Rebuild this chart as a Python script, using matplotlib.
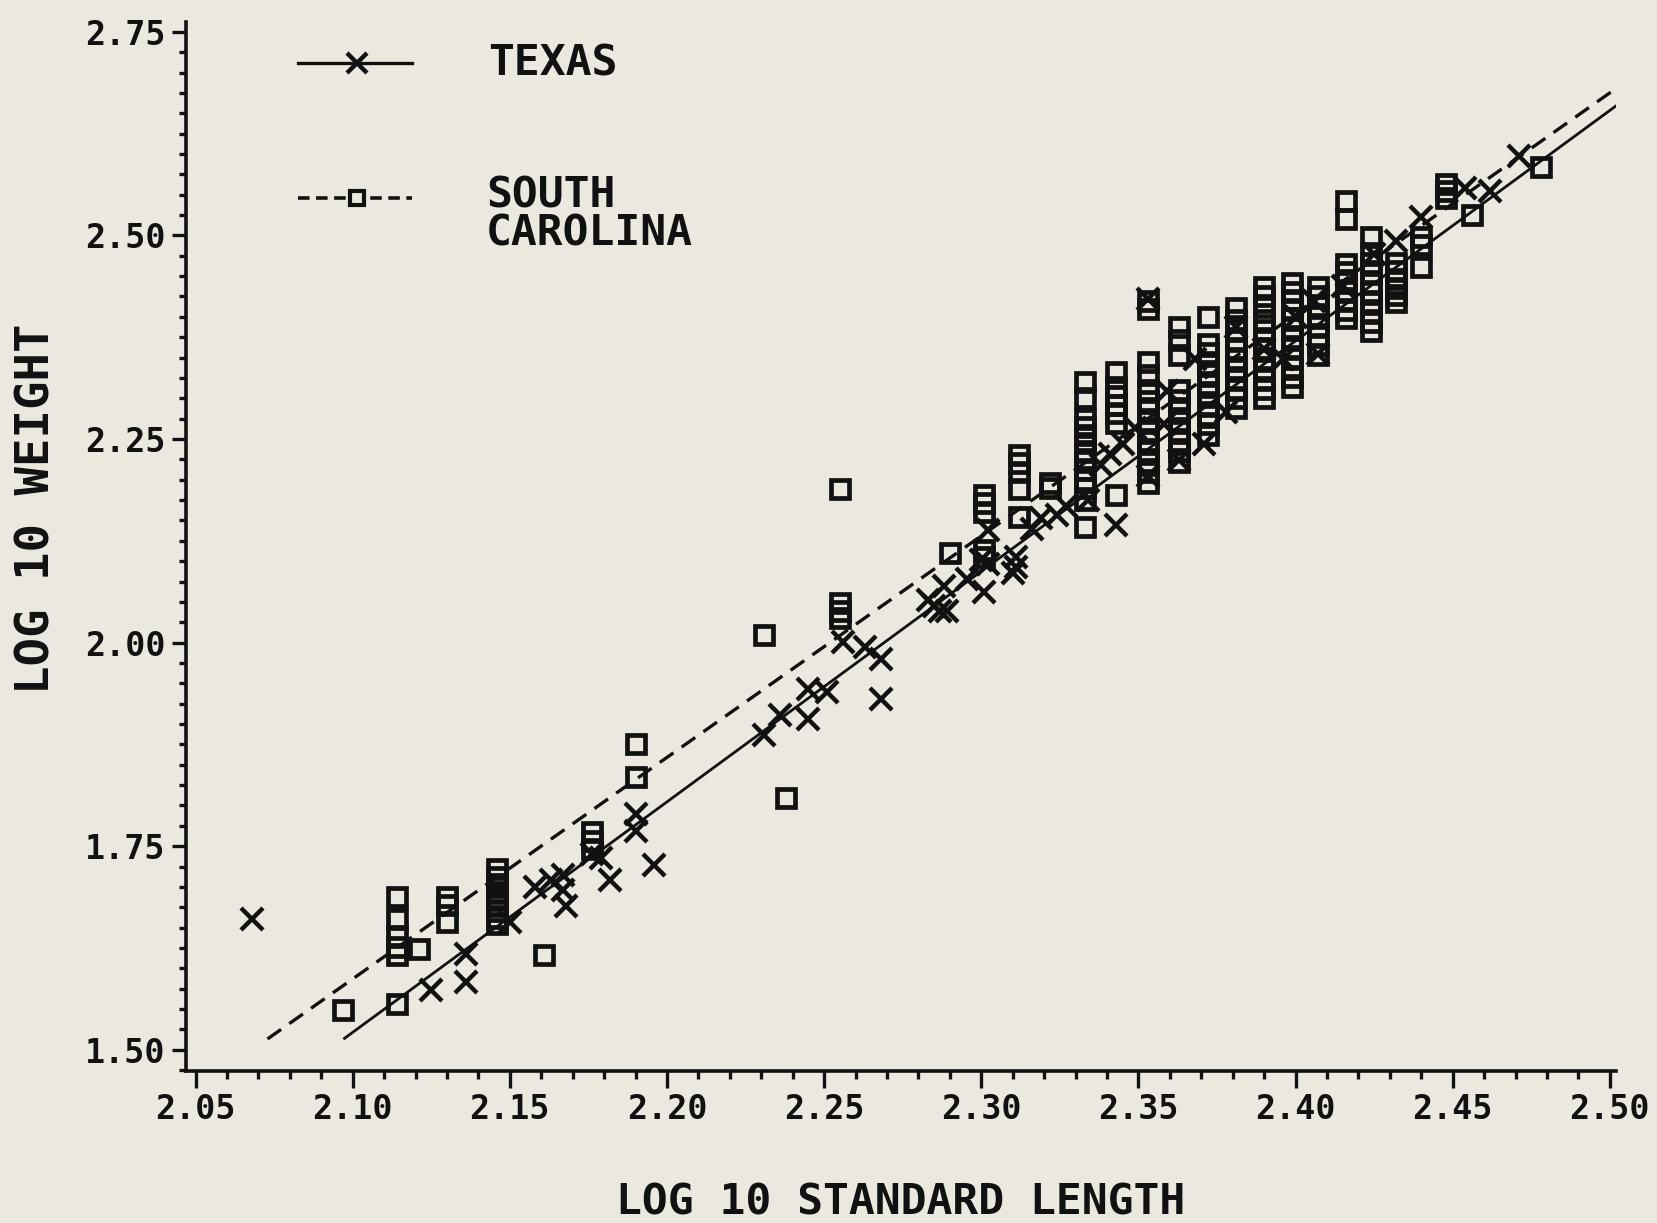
import numpy as np
import matplotlib.pyplot as plt
from matplotlib.ticker import MultipleLocator, FormatStrFormatter

# ---------------------------------------------------------------------------
# Data (log10 standard length, log10 weight)
# ---------------------------------------------------------------------------

texas_x = [2.068, 2.125, 2.136, 2.136, 2.150, 2.158, 2.163, 2.167, 2.167, 2.168,
           2.176, 2.179, 2.182, 2.190, 2.190, 2.196,
           2.231, 2.236, 2.245, 2.245, 2.251, 2.256, 2.263, 2.268, 2.268,
           2.283, 2.285, 2.287, 2.289, 2.288, 2.2955, 2.301, 2.300, 2.302, 2.302,
           2.310, 2.311, 2.311, 2.316, 2.319, 2.324, 2.327, 2.334, 2.343,
           2.338, 2.341, 2.345, 2.349, 2.353, 2.353, 2.358, 2.359, 2.363,
           2.368, 2.371, 2.378, 2.381, 2.390, 2.396, 2.400, 2.407, 2.406,
           2.415, 2.425, 2.432, 2.440, 2.454, 2.462, 2.471]
texas_y = [1.661, 1.574, 1.583, 1.618, 1.657, 1.700, 1.709, 1.715, 1.696, 1.676,
           1.740, 1.735, 1.709, 1.769, 1.789, 1.727,
           1.887, 1.911, 1.943, 1.906, 1.939, 2.001, 1.995, 1.980, 1.931,
           2.052, 2.045, 2.039, 2.039, 2.069, 2.078, 2.062, 2.101, 2.138, 2.097,
           2.085, 2.105, 2.093, 2.140, 2.153, 2.157, 2.168, 2.175, 2.144,
           2.218, 2.231, 2.244, 2.263, 2.205, 2.422, 2.269, 2.309, 2.224,
           2.348, 2.244, 2.283, 2.387, 2.361, 2.348, 2.400, 2.354, 2.419,
           2.438, 2.477, 2.493, 2.523, 2.558, 2.555, 2.597]

# South Carolina: columns of equal length with the weights stacked in each
sc_cols = [2.097, 2.114, 2.121, 2.130, 2.146, 2.161, 2.176, 2.190, 2.231, 2.238,
           2.255, 2.290, 2.301, 2.312, 2.322, 2.333, 2.343, 2.353, 2.363, 2.372,
           2.381, 2.390, 2.399, 2.407, 2.416, 2.424, 2.432, 2.440, 2.448, 2.456,
           2.478]
sc_weights = [
    [1.549],
    [1.688, 1.660, 1.640, 1.626, 1.616, 1.556],
    [1.624],
    [1.688, 1.678, 1.657],
    [1.722, 1.712, 1.703, 1.694, 1.686, 1.678, 1.670, 1.662, 1.655],
    [1.617],
    [1.767, 1.757, 1.747],
    [1.876, 1.835],
    [2.009],
    [1.809],
    [2.189, 2.049, 2.039, 2.030],
    [2.110],
    [2.181, 2.171, 2.160, 2.114, 2.105],
    [2.230, 2.220, 2.209, 2.189, 2.154],
    [2.196, 2.190],
    [2.320, 2.300, 2.275, 2.265, 2.255, 2.245, 2.235, 2.225, 2.212, 2.200,
     2.190, 2.175, 2.142],
    [2.332, 2.314, 2.303, 2.292, 2.282, 2.270, 2.181],
    [2.419, 2.410, 2.345, 2.328, 2.310, 2.297, 2.285, 2.272, 2.260, 2.247,
     2.235, 2.222, 2.209, 2.196],
    [2.388, 2.371, 2.353, 2.310, 2.298, 2.285, 2.272, 2.260, 2.248, 2.235, 2.222],
    [2.400, 2.367, 2.355, 2.342, 2.330, 2.318, 2.305, 2.292, 2.280, 2.268, 2.255],
    [2.411, 2.396, 2.384, 2.372, 2.360, 2.348, 2.336, 2.324, 2.312, 2.300, 2.288],
    [2.437, 2.425, 2.412, 2.396, 2.384, 2.372, 2.360, 2.348, 2.336, 2.324,
     2.312, 2.300],
    [2.441, 2.431, 2.421, 2.410, 2.398, 2.386, 2.374, 2.362, 2.350, 2.338,
     2.326, 2.314],
    [2.437, 2.425, 2.413, 2.401, 2.389, 2.377, 2.365, 2.353],
    [2.542, 2.520, 2.465, 2.455, 2.445, 2.432, 2.420, 2.408, 2.398],
    [2.498, 2.478, 2.466, 2.454, 2.442, 2.430, 2.418, 2.406, 2.394, 2.383],
    [2.466, 2.456, 2.446, 2.436, 2.427, 2.418],
    [2.498, 2.488, 2.461],
    [2.563, 2.554, 2.546],
    [2.525],
    [2.584],
]

# fitted regressions: intercept, slope, x-range
texas_fit = (-4.4216, 2.83, 2.0974, 2.502)
sc_fit = (-4.125, 2.72, 2.0729, 2.502)

# ---------------------------------------------------------------------------
# Plot
# ---------------------------------------------------------------------------

BG = "#ebe9df"
INK = "#111111"
FONT = "DejaVu Sans Mono"

fig = plt.figure(figsize=(16.57, 12.23), dpi=100, facecolor=BG)
ax = fig.add_axes([0.1123, 0.1243, 0.863, 0.8577], facecolor=BG)

sc_x = [x for x, ws in zip(sc_cols, sc_weights) for _ in ws]
sc_y = [w for ws in sc_weights for w in ws]

for a, b, x0, x1, ls in [(*texas_fit, "-"), (*sc_fit, (0, (5, 3)))]:
    xs = np.array([x0, x1])
    ax.plot(xs, a + b * xs, color=INK, lw=2.0 if ls == "-" else 2.4, ls=ls)

ax.plot(sc_x, sc_y, ls="none", marker="s", ms=12.5, mfc="none", mec=INK, mew=3.4)
ax.plot(texas_x, texas_y, ls="none", marker="x", ms=15.5, mec=INK, mew=3.2)

ax.set_xlim(2.047, 2.502)
ax.set_ylim(1.474, 2.762)

for side in ["top", "right"]:
    ax.spines[side].set_visible(False)
for side in ["left", "bottom"]:
    ax.spines[side].set_linewidth(2.6)
    ax.spines[side].set_color(INK)

ax.xaxis.set_major_locator(MultipleLocator(0.05))
ax.xaxis.set_minor_locator(MultipleLocator(0.01))
ax.yaxis.set_major_locator(MultipleLocator(0.25))
ax.yaxis.set_minor_locator(MultipleLocator(0.025))
ax.xaxis.set_major_formatter(FormatStrFormatter("%.2f"))
ax.yaxis.set_major_formatter(FormatStrFormatter("%.2f"))
ax.set_xticks([2.05 + 0.05 * i for i in range(10)])
ax.set_yticks([1.50, 1.75, 2.00, 2.25, 2.50, 2.75])

ax.tick_params(axis="x", which="major", direction="out", length=12, width=2.4,
               pad=4, colors=INK, labelsize=24)
ax.tick_params(axis="x", which="minor", direction="out", length=6, width=2.4, colors=INK)
ax.tick_params(axis="y", which="major", direction="out", length=10, width=2.4,
               pad=5, colors=INK, labelsize=24)
ax.tick_params(axis="y", which="minor", direction="out", length=5, width=2.4, colors=INK)
for lab in ax.get_xticklabels() + ax.get_yticklabels():
    lab.set_fontfamily(FONT)
    lab.set_fontweight("bold")

txt = dict(family=FONT, fontweight="bold", color=INK, fontsize=31)
fig.text(0.5437, 0.017, "LOG 10 STANDARD LENGTH", ha="center", va="center", **txt)
fig.text(0.0223, 0.5838, "LOG 10 WEIGHT", ha="center", va="center", rotation=90,
         fontsize=34, **{k: v for k, v in txt.items() if k != "fontsize"})

# legend drawn by hand in axes fraction
ax.plot([0.0783, 0.158], [0.9605, 0.9605], transform=ax.transAxes, color=INK, lw=2.4,
        clip_on=False)
ax.plot([0.1196], [0.9605], transform=ax.transAxes, marker="x", ms=15, mec=INK, mew=3.2)
ax.text(0.2112, 0.9605, "TEXAS", transform=ax.transAxes, va="center", ha="left", **txt)

ax.plot([0.0783, 0.158], [0.8326, 0.8326], transform=ax.transAxes, color=INK, lw=2.6,
        ls=(0, (3.2, 1.8)))
ax.plot([0.1196], [0.8326], transform=ax.transAxes, marker="s", ms=10, mfc=BG, mec=INK,
        mew=3.0)
ax.text(0.2098, 0.8165, "SOUTH\nCAROLINA", transform=ax.transAxes, va="center", ha="left",
        linespacing=0.85, **txt)

plt.savefig("out.png", dpi=100, facecolor=BG)
plt.close()
